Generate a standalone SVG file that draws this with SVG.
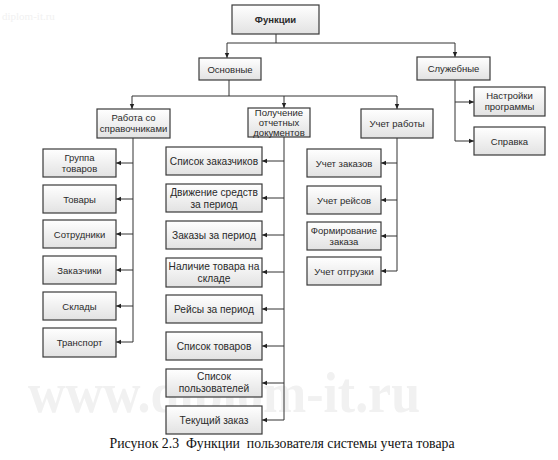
<svg xmlns="http://www.w3.org/2000/svg" width="558" height="460" viewBox="0 0 558 460">
<defs>
<linearGradient id="g" x1="0" y1="0" x2="0" y2="1">
<stop offset="0" stop-color="#ffffff"/>
<stop offset="1" stop-color="#e2e2e2"/>
</linearGradient>
<marker id="a" markerWidth="6" markerHeight="6" refX="5" refY="3" orient="auto" markerUnits="userSpaceOnUse">
<path d="M0,0.8 L5,3 L0,5.2 Z" fill="#222"/>
</marker>
</defs>
<style>
.n rect{fill:url(#g);stroke:#3a3a3a;stroke-width:1.2}
.n text{font-family:"Liberation Sans",Arial,sans-serif;font-size:9.5px;fill:#2a2a2a;text-anchor:middle}
.m text{font-size:10.2px}
.c path{fill:none;stroke:#333;stroke-width:1}
.c .ar{marker-end:url(#a)}
.wm{font-family:"Liberation Serif",serif;fill:#f1f1f1}
</style>
<rect width="558" height="460" fill="#fff"/>
<text class="wm" x="2" y="20" font-size="11">diplom-it.ru</text>
<text class="wm" x="28" y="412" font-size="56" font-weight="bold" textLength="392" lengthAdjust="spacingAndGlyphs">www.diplom-it.ru</text>

<g class="c">
<path d="M276,34 V43"/>
<path d="M227,43 H455"/>
<path class="ar" d="M227,43 V58"/>
<path class="ar" d="M455,43 V57"/>
<path d="M229,80 V96"/>
<path d="M132,96 H397"/>
<path class="ar" d="M132,96 V109"/>
<path class="ar" d="M284,96 V108"/>
<path class="ar" d="M397,96 V109"/>
<path d="M133,138 V342"/>
<path class="ar" d="M133,163 H116"/>
<path class="ar" d="M133,199 H116"/>
<path class="ar" d="M133,234 H116"/>
<path class="ar" d="M133,270 H116"/>
<path class="ar" d="M133,306 H116"/>
<path class="ar" d="M133,342 H116"/>
<path d="M284,137 V420"/>
<path class="ar" d="M284,161 H262"/>
<path class="ar" d="M284,198 H262"/>
<path class="ar" d="M284,235 H262"/>
<path class="ar" d="M284,272 H262"/>
<path class="ar" d="M284,309 H262"/>
<path class="ar" d="M284,346 H262"/>
<path class="ar" d="M284,383 H262"/>
<path class="ar" d="M284,420 H262"/>
<path d="M397,138 V271"/>
<path class="ar" d="M397,163 H381"/>
<path class="ar" d="M397,200 H381"/>
<path class="ar" d="M397,236 H381"/>
<path class="ar" d="M397,271 H381"/>
<path d="M455,80 V141"/>
<path class="ar" d="M455,102 H474"/>
<path class="ar" d="M455,141 H474"/>
</g>

<g id="n-funktsii" class="n"><rect x="232" y="5" width="87" height="29"/><text x="275.5" y="23" font-weight="bold">Функции</text></g>
<g id="n-osnovnye" class="n"><rect x="199" y="58" width="62" height="22"/><text x="230" y="72.5">Основные</text></g>
<g id="n-sluzhebnye" class="n"><rect x="417" y="57" width="73" height="23"/><text x="453.5" y="72">Служебные</text></g>
<g id="n-rabota" class="n"><rect x="97" y="109" width="73" height="29"/><text x="133.5" y="121">Работа со</text><text x="133.5" y="132">справочниками</text></g>
<g id="n-poluchenie" class="n"><rect x="248" y="108" width="62" height="29"/><text x="279" y="116">Получение</text><text x="279" y="126">отчетных</text><text x="279" y="136">документов</text></g>
<g id="n-uchet-raboty" class="n"><rect x="361" y="109" width="72" height="29"/><text x="397" y="127">Учет работы</text></g>
<g id="n-nastroyki" class="n"><rect x="474" y="87" width="71" height="29"/><text x="509.5" y="99">Настройки</text><text x="509.5" y="110">программы</text></g>
<g id="n-spravka" class="n"><rect x="474" y="127" width="71" height="28"/><text x="509.5" y="144.5">Справка</text></g>

<g id="n-gruppa" class="n"><rect x="43" y="149" width="73" height="28"/><text x="79.5" y="160.5">Группа</text><text x="79.5" y="171.5">товаров</text></g>
<g id="n-tovary" class="n"><rect x="43" y="185" width="73" height="28"/><text x="79.5" y="202.5">Товары</text></g>
<g id="n-sotrudniki" class="n"><rect x="43" y="220" width="73" height="28"/><text x="79.5" y="237.5">Сотрудники</text></g>
<g id="n-zakazchiki" class="n"><rect x="43" y="256" width="73" height="28"/><text x="79.5" y="273.5">Заказчики</text></g>
<g id="n-sklady" class="n"><rect x="43" y="292" width="73" height="28"/><text x="79.5" y="309.5">Склады</text></g>
<g id="n-transport" class="n"><rect x="43" y="328" width="73" height="29"/><text x="79.5" y="346">Транспорт</text></g>

<g id="n-spisok-zakazchikov" class="n m"><rect x="166" y="147" width="96" height="28"/><text x="214" y="165">Список заказчиков</text></g>
<g id="n-dvizhenie" class="n m"><rect x="166" y="184" width="96" height="28"/><text x="214" y="196">Движение средств</text><text x="214" y="208">за период</text></g>
<g id="n-zakazy-period" class="n m"><rect x="166" y="221" width="96" height="28"/><text x="214" y="239">Заказы за период</text></g>
<g id="n-nalichie" class="n m"><rect x="166" y="258" width="96" height="29"/><text x="214" y="270">Наличие товара на</text><text x="214" y="282">складе</text></g>
<g id="n-reysy-period" class="n m"><rect x="166" y="295" width="96" height="28"/><text x="214" y="313">Рейсы за период</text></g>
<g id="n-spisok-tovarov" class="n m"><rect x="166" y="332" width="96" height="28"/><text x="214" y="350">Список товаров</text></g>
<g id="n-spisok-polz" class="n m"><rect x="166" y="369" width="96" height="28"/><text x="214" y="380" font-size="9.8">Список</text><text x="214" y="392" font-size="9.8">пользователей</text></g>
<g id="n-tekushchiy" class="n m"><rect x="166" y="406" width="96" height="28"/><text x="214" y="424">Текущий заказ</text></g>

<g id="n-uchet-zakazov" class="n"><rect x="307" y="149" width="74" height="28"/><text x="344" y="167" font-size="10.3">Учет заказов</text></g>
<g id="n-uchet-reysov" class="n"><rect x="307" y="186" width="74" height="28"/><text x="344" y="203.5">Учет рейсов</text></g>
<g id="n-formirovanie" class="n"><rect x="307" y="222" width="74" height="28"/><text x="344" y="233.5">Формирование</text><text x="344" y="244.5">заказа</text></g>
<g id="n-uchet-otgruzki" class="n"><rect x="307" y="257" width="74" height="28"/><text x="344" y="274.5">Учет отгрузки</text></g>

<text x="282" y="448" font-family="'Liberation Serif','Times New Roman',serif" font-size="13.8" fill="#111" text-anchor="middle" xml:space="preserve">Рисунок 2.3  Функции  пользователя системы учета товара</text>
</svg>
